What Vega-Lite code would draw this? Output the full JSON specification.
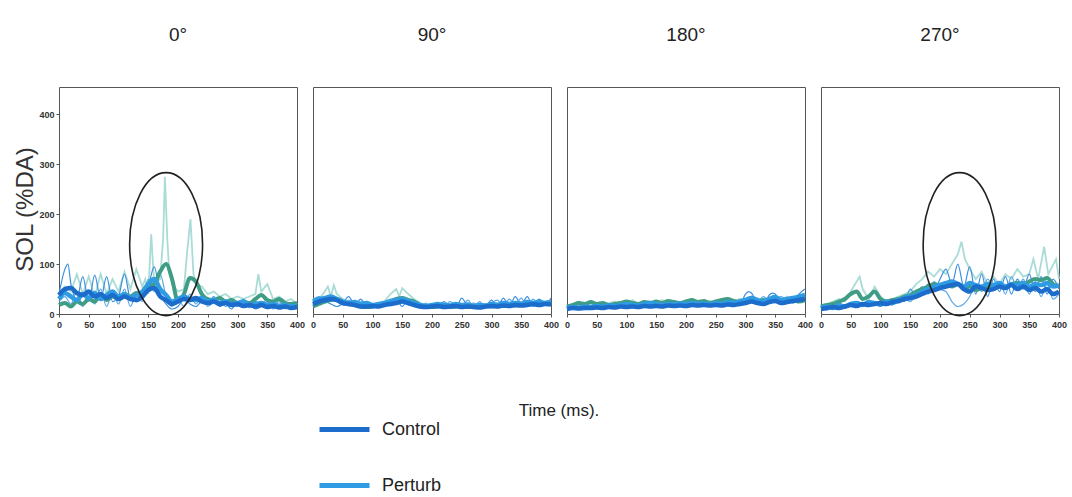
{
"$schema": "https://vega.github.io/schema/vega-lite/v6.json",
"background": "white",
"padding": {"left": 13, "top": 26, "right": 0, "bottom": 0},
"data": {"values": [
{"p":"0°","s":"A","t":0,"v":40},{"p":"0°","s":"A","t":10,"v":55},{"p":"0°","s":"A","t":20,"v":45},{"p":"0°","s":"A","t":30,"v":80},{"p":"0°","s":"A","t":40,"v":40},{"p":"0°","s":"A","t":50,"v":75},{"p":"0°","s":"A","t":60,"v":35},{"p":"0°","s":"A","t":70,"v":80},{"p":"0°","s":"A","t":80,"v":40},{"p":"0°","s":"A","t":90,"v":70},{"p":"0°","s":"A","t":100,"v":45},{"p":"0°","s":"A","t":110,"v":85},{"p":"0°","s":"A","t":120,"v":50},{"p":"0°","s":"A","t":130,"v":90},{"p":"0°","s":"A","t":140,"v":55},{"p":"0°","s":"A","t":145,"v":70},{"p":"0°","s":"A","t":150,"v":40},{"p":"0°","s":"A","t":155,"v":160},{"p":"0°","s":"A","t":160,"v":60},{"p":"0°","s":"A","t":170,"v":70},{"p":"0°","s":"A","t":175,"v":150},{"p":"0°","s":"A","t":178,"v":275},{"p":"0°","s":"A","t":182,"v":150},{"p":"0°","s":"A","t":185,"v":90},{"p":"0°","s":"A","t":190,"v":60},{"p":"0°","s":"A","t":200,"v":45},{"p":"0°","s":"A","t":210,"v":50},{"p":"0°","s":"A","t":215,"v":120},{"p":"0°","s":"A","t":221,"v":190},{"p":"0°","s":"A","t":226,"v":80},{"p":"0°","s":"A","t":230,"v":60},{"p":"0°","s":"A","t":240,"v":55},{"p":"0°","s":"A","t":250,"v":40},{"p":"0°","s":"A","t":260,"v":45},{"p":"0°","s":"A","t":270,"v":35},{"p":"0°","s":"A","t":280,"v":40},{"p":"0°","s":"A","t":290,"v":30},{"p":"0°","s":"A","t":300,"v":35},{"p":"0°","s":"A","t":310,"v":30},{"p":"0°","s":"A","t":320,"v":35},{"p":"0°","s":"A","t":330,"v":40},{"p":"0°","s":"A","t":335,"v":80},{"p":"0°","s":"A","t":340,"v":45},{"p":"0°","s":"A","t":350,"v":60},{"p":"0°","s":"A","t":360,"v":30},{"p":"0°","s":"A","t":370,"v":35},{"p":"0°","s":"A","t":380,"v":25},{"p":"0°","s":"A","t":390,"v":30},{"p":"0°","s":"A","t":400,"v":20},
{"p":"0°","s":"B","t":0,"v":40},{"p":"0°","s":"B","t":10,"v":90},{"p":"0°","s":"B","t":15,"v":100},{"p":"0°","s":"B","t":20,"v":60},{"p":"0°","s":"B","t":30,"v":30},{"p":"0°","s":"B","t":40,"v":75},{"p":"0°","s":"B","t":50,"v":25},{"p":"0°","s":"B","t":60,"v":78},{"p":"0°","s":"B","t":70,"v":30},{"p":"0°","s":"B","t":80,"v":75},{"p":"0°","s":"B","t":90,"v":25},{"p":"0°","s":"B","t":100,"v":35},{"p":"0°","s":"B","t":110,"v":80},{"p":"0°","s":"B","t":120,"v":30},{"p":"0°","s":"B","t":130,"v":25},{"p":"0°","s":"B","t":140,"v":40},{"p":"0°","s":"B","t":150,"v":55},{"p":"0°","s":"B","t":160,"v":95},{"p":"0°","s":"B","t":170,"v":40},{"p":"0°","s":"B","t":180,"v":20},{"p":"0°","s":"B","t":190,"v":10},{"p":"0°","s":"B","t":200,"v":15},{"p":"0°","s":"B","t":210,"v":30},{"p":"0°","s":"B","t":220,"v":20},{"p":"0°","s":"B","t":230,"v":15},{"p":"0°","s":"B","t":240,"v":25},{"p":"0°","s":"B","t":250,"v":20},{"p":"0°","s":"B","t":260,"v":35},{"p":"0°","s":"B","t":270,"v":15},{"p":"0°","s":"B","t":280,"v":20},{"p":"0°","s":"B","t":290,"v":10},{"p":"0°","s":"B","t":300,"v":25},{"p":"0°","s":"B","t":310,"v":15},{"p":"0°","s":"B","t":320,"v":20},{"p":"0°","s":"B","t":330,"v":10},{"p":"0°","s":"B","t":340,"v":15},{"p":"0°","s":"B","t":350,"v":25},{"p":"0°","s":"B","t":360,"v":10},{"p":"0°","s":"B","t":370,"v":20},{"p":"0°","s":"B","t":380,"v":15},{"p":"0°","s":"B","t":390,"v":10},{"p":"0°","s":"B","t":400,"v":15},
{"p":"0°","s":"D","t":0,"v":25},{"p":"0°","s":"D","t":10,"v":35},{"p":"0°","s":"D","t":20,"v":20},{"p":"0°","s":"D","t":30,"v":45},{"p":"0°","s":"D","t":40,"v":15},{"p":"0°","s":"D","t":50,"v":40},{"p":"0°","s":"D","t":60,"v":20},{"p":"0°","s":"D","t":70,"v":50},{"p":"0°","s":"D","t":80,"v":15},{"p":"0°","s":"D","t":90,"v":45},{"p":"0°","s":"D","t":100,"v":20},{"p":"0°","s":"D","t":110,"v":50},{"p":"0°","s":"D","t":120,"v":15},{"p":"0°","s":"D","t":130,"v":40},{"p":"0°","s":"D","t":140,"v":25},{"p":"0°","s":"D","t":150,"v":70},{"p":"0°","s":"D","t":160,"v":45},{"p":"0°","s":"D","t":170,"v":80},{"p":"0°","s":"D","t":180,"v":35},{"p":"0°","s":"D","t":190,"v":15},{"p":"0°","s":"D","t":200,"v":30},{"p":"0°","s":"D","t":210,"v":15},{"p":"0°","s":"D","t":220,"v":40},{"p":"0°","s":"D","t":230,"v":20},{"p":"0°","s":"D","t":240,"v":35},{"p":"0°","s":"D","t":250,"v":15},{"p":"0°","s":"D","t":260,"v":25},{"p":"0°","s":"D","t":270,"v":30},{"p":"0°","s":"D","t":280,"v":15},{"p":"0°","s":"D","t":290,"v":25},{"p":"0°","s":"D","t":300,"v":15},{"p":"0°","s":"D","t":310,"v":30},{"p":"0°","s":"D","t":320,"v":12},{"p":"0°","s":"D","t":330,"v":25},{"p":"0°","s":"D","t":340,"v":20},{"p":"0°","s":"D","t":350,"v":30},{"p":"0°","s":"D","t":360,"v":15},{"p":"0°","s":"D","t":370,"v":25},{"p":"0°","s":"D","t":380,"v":10},{"p":"0°","s":"D","t":390,"v":20},{"p":"0°","s":"D","t":400,"v":15},
{"p":"0°","s":"G","t":0,"v":18},{"p":"0°","s":"G","t":10,"v":22},{"p":"0°","s":"G","t":20,"v":15},{"p":"0°","s":"G","t":30,"v":25},{"p":"0°","s":"G","t":40,"v":20},{"p":"0°","s":"G","t":50,"v":30},{"p":"0°","s":"G","t":60,"v":25},{"p":"0°","s":"G","t":70,"v":38},{"p":"0°","s":"G","t":80,"v":28},{"p":"0°","s":"G","t":90,"v":35},{"p":"0°","s":"G","t":100,"v":30},{"p":"0°","s":"G","t":110,"v":40},{"p":"0°","s":"G","t":120,"v":35},{"p":"0°","s":"G","t":130,"v":42},{"p":"0°","s":"G","t":140,"v":38},{"p":"0°","s":"G","t":150,"v":55},{"p":"0°","s":"G","t":160,"v":60},{"p":"0°","s":"G","t":170,"v":85},{"p":"0°","s":"G","t":180,"v":100},{"p":"0°","s":"G","t":190,"v":70},{"p":"0°","s":"G","t":200,"v":25},{"p":"0°","s":"G","t":210,"v":40},{"p":"0°","s":"G","t":220,"v":72},{"p":"0°","s":"G","t":230,"v":65},{"p":"0°","s":"G","t":240,"v":40},{"p":"0°","s":"G","t":250,"v":30},{"p":"0°","s":"G","t":260,"v":28},{"p":"0°","s":"G","t":270,"v":32},{"p":"0°","s":"G","t":280,"v":25},{"p":"0°","s":"G","t":290,"v":28},{"p":"0°","s":"G","t":300,"v":22},{"p":"0°","s":"G","t":310,"v":25},{"p":"0°","s":"G","t":320,"v":22},{"p":"0°","s":"G","t":330,"v":30},{"p":"0°","s":"G","t":340,"v":38},{"p":"0°","s":"G","t":350,"v":28},{"p":"0°","s":"G","t":360,"v":25},{"p":"0°","s":"G","t":370,"v":30},{"p":"0°","s":"G","t":380,"v":22},{"p":"0°","s":"G","t":390,"v":20},{"p":"0°","s":"G","t":400,"v":22},
{"p":"0°","s":"P","t":0,"v":30},{"p":"0°","s":"P","t":10,"v":42},{"p":"0°","s":"P","t":20,"v":35},{"p":"0°","s":"P","t":30,"v":28},{"p":"0°","s":"P","t":40,"v":40},{"p":"0°","s":"P","t":50,"v":32},{"p":"0°","s":"P","t":60,"v":42},{"p":"0°","s":"P","t":70,"v":30},{"p":"0°","s":"P","t":80,"v":38},{"p":"0°","s":"P","t":90,"v":45},{"p":"0°","s":"P","t":100,"v":35},{"p":"0°","s":"P","t":110,"v":40},{"p":"0°","s":"P","t":120,"v":32},{"p":"0°","s":"P","t":130,"v":38},{"p":"0°","s":"P","t":140,"v":45},{"p":"0°","s":"P","t":150,"v":60},{"p":"0°","s":"P","t":160,"v":70},{"p":"0°","s":"P","t":170,"v":50},{"p":"0°","s":"P","t":180,"v":38},{"p":"0°","s":"P","t":190,"v":25},{"p":"0°","s":"P","t":200,"v":30},{"p":"0°","s":"P","t":210,"v":35},{"p":"0°","s":"P","t":220,"v":30},{"p":"0°","s":"P","t":230,"v":28},{"p":"0°","s":"P","t":240,"v":32},{"p":"0°","s":"P","t":250,"v":25},{"p":"0°","s":"P","t":260,"v":28},{"p":"0°","s":"P","t":270,"v":22},{"p":"0°","s":"P","t":280,"v":25},{"p":"0°","s":"P","t":290,"v":20},{"p":"0°","s":"P","t":300,"v":22},{"p":"0°","s":"P","t":310,"v":25},{"p":"0°","s":"P","t":320,"v":18},{"p":"0°","s":"P","t":330,"v":20},{"p":"0°","s":"P","t":340,"v":22},{"p":"0°","s":"P","t":350,"v":18},{"p":"0°","s":"P","t":360,"v":20},{"p":"0°","s":"P","t":370,"v":16},{"p":"0°","s":"P","t":380,"v":18},{"p":"0°","s":"P","t":390,"v":15},{"p":"0°","s":"P","t":400,"v":18},
{"p":"0°","s":"C","t":0,"v":38},{"p":"0°","s":"C","t":10,"v":50},{"p":"0°","s":"C","t":20,"v":52},{"p":"0°","s":"C","t":30,"v":42},{"p":"0°","s":"C","t":40,"v":38},{"p":"0°","s":"C","t":50,"v":45},{"p":"0°","s":"C","t":60,"v":35},{"p":"0°","s":"C","t":70,"v":40},{"p":"0°","s":"C","t":80,"v":32},{"p":"0°","s":"C","t":90,"v":38},{"p":"0°","s":"C","t":100,"v":30},{"p":"0°","s":"C","t":110,"v":35},{"p":"0°","s":"C","t":120,"v":30},{"p":"0°","s":"C","t":130,"v":28},{"p":"0°","s":"C","t":140,"v":35},{"p":"0°","s":"C","t":150,"v":48},{"p":"0°","s":"C","t":160,"v":52},{"p":"0°","s":"C","t":170,"v":35},{"p":"0°","s":"C","t":180,"v":28},{"p":"0°","s":"C","t":190,"v":20},{"p":"0°","s":"C","t":200,"v":25},{"p":"0°","s":"C","t":210,"v":30},{"p":"0°","s":"C","t":220,"v":28},{"p":"0°","s":"C","t":230,"v":32},{"p":"0°","s":"C","t":240,"v":25},{"p":"0°","s":"C","t":250,"v":22},{"p":"0°","s":"C","t":260,"v":25},{"p":"0°","s":"C","t":270,"v":20},{"p":"0°","s":"C","t":280,"v":22},{"p":"0°","s":"C","t":290,"v":18},{"p":"0°","s":"C","t":300,"v":20},{"p":"0°","s":"C","t":310,"v":16},{"p":"0°","s":"C","t":320,"v":18},{"p":"0°","s":"C","t":330,"v":15},{"p":"0°","s":"C","t":340,"v":18},{"p":"0°","s":"C","t":350,"v":14},{"p":"0°","s":"C","t":360,"v":16},{"p":"0°","s":"C","t":370,"v":13},{"p":"0°","s":"C","t":380,"v":15},{"p":"0°","s":"C","t":390,"v":12},{"p":"0°","s":"C","t":400,"v":14},
{"p":"90°","s":"A","t":0,"v":20},{"p":"90°","s":"A","t":10,"v":30},{"p":"90°","s":"A","t":20,"v":45},{"p":"90°","s":"A","t":25,"v":55},{"p":"90°","s":"A","t":30,"v":35},{"p":"90°","s":"A","t":35,"v":58},{"p":"90°","s":"A","t":40,"v":40},{"p":"90°","s":"A","t":50,"v":30},{"p":"90°","s":"A","t":60,"v":25},{"p":"90°","s":"A","t":70,"v":20},{"p":"90°","s":"A","t":80,"v":25},{"p":"90°","s":"A","t":90,"v":20},{"p":"90°","s":"A","t":100,"v":18},{"p":"90°","s":"A","t":110,"v":22},{"p":"90°","s":"A","t":120,"v":25},{"p":"90°","s":"A","t":130,"v":40},{"p":"90°","s":"A","t":140,"v":50},{"p":"90°","s":"A","t":145,"v":35},{"p":"90°","s":"A","t":150,"v":52},{"p":"90°","s":"A","t":160,"v":40},{"p":"90°","s":"A","t":170,"v":30},{"p":"90°","s":"A","t":180,"v":22},{"p":"90°","s":"A","t":190,"v":18},{"p":"90°","s":"A","t":200,"v":20},{"p":"90°","s":"A","t":210,"v":15},{"p":"90°","s":"A","t":220,"v":18},{"p":"90°","s":"A","t":230,"v":16},{"p":"90°","s":"A","t":240,"v":20},{"p":"90°","s":"A","t":250,"v":18},{"p":"90°","s":"A","t":260,"v":15},{"p":"90°","s":"A","t":270,"v":18},{"p":"90°","s":"A","t":280,"v":15},{"p":"90°","s":"A","t":290,"v":20},{"p":"90°","s":"A","t":300,"v":18},{"p":"90°","s":"A","t":310,"v":22},{"p":"90°","s":"A","t":320,"v":18},{"p":"90°","s":"A","t":330,"v":20},{"p":"90°","s":"A","t":340,"v":22},{"p":"90°","s":"A","t":350,"v":18},{"p":"90°","s":"A","t":360,"v":25},{"p":"90°","s":"A","t":370,"v":20},{"p":"90°","s":"A","t":380,"v":28},{"p":"90°","s":"A","t":390,"v":20},{"p":"90°","s":"A","t":400,"v":22},
{"p":"90°","s":"B","t":0,"v":15},{"p":"90°","s":"B","t":10,"v":20},{"p":"90°","s":"B","t":20,"v":25},{"p":"90°","s":"B","t":30,"v":20},{"p":"90°","s":"B","t":40,"v":15},{"p":"90°","s":"B","t":50,"v":22},{"p":"90°","s":"B","t":60,"v":35},{"p":"90°","s":"B","t":70,"v":18},{"p":"90°","s":"B","t":80,"v":30},{"p":"90°","s":"B","t":90,"v":15},{"p":"90°","s":"B","t":100,"v":12},{"p":"90°","s":"B","t":110,"v":18},{"p":"90°","s":"B","t":120,"v":15},{"p":"90°","s":"B","t":130,"v":20},{"p":"90°","s":"B","t":140,"v":28},{"p":"90°","s":"B","t":150,"v":15},{"p":"90°","s":"B","t":160,"v":30},{"p":"90°","s":"B","t":170,"v":20},{"p":"90°","s":"B","t":180,"v":12},{"p":"90°","s":"B","t":190,"v":15},{"p":"90°","s":"B","t":200,"v":20},{"p":"90°","s":"B","t":210,"v":12},{"p":"90°","s":"B","t":220,"v":25},{"p":"90°","s":"B","t":230,"v":15},{"p":"90°","s":"B","t":240,"v":12},{"p":"90°","s":"B","t":250,"v":32},{"p":"90°","s":"B","t":260,"v":18},{"p":"90°","s":"B","t":270,"v":22},{"p":"90°","s":"B","t":280,"v":12},{"p":"90°","s":"B","t":290,"v":15},{"p":"90°","s":"B","t":300,"v":28},{"p":"90°","s":"B","t":310,"v":15},{"p":"90°","s":"B","t":320,"v":32},{"p":"90°","s":"B","t":330,"v":15},{"p":"90°","s":"B","t":340,"v":35},{"p":"90°","s":"B","t":350,"v":18},{"p":"90°","s":"B","t":360,"v":35},{"p":"90°","s":"B","t":370,"v":15},{"p":"90°","s":"B","t":380,"v":30},{"p":"90°","s":"B","t":390,"v":18},{"p":"90°","s":"B","t":400,"v":32},
{"p":"90°","s":"D","t":0,"v":30},{"p":"90°","s":"D","t":10,"v":35},{"p":"90°","s":"D","t":20,"v":22},{"p":"90°","s":"D","t":30,"v":30},{"p":"90°","s":"D","t":40,"v":25},{"p":"90°","s":"D","t":50,"v":18},{"p":"90°","s":"D","t":60,"v":28},{"p":"90°","s":"D","t":70,"v":15},{"p":"90°","s":"D","t":80,"v":20},{"p":"90°","s":"D","t":90,"v":25},{"p":"90°","s":"D","t":100,"v":12},{"p":"90°","s":"D","t":110,"v":22},{"p":"90°","s":"D","t":120,"v":18},{"p":"90°","s":"D","t":130,"v":25},{"p":"90°","s":"D","t":140,"v":20},{"p":"90°","s":"D","t":150,"v":30},{"p":"90°","s":"D","t":160,"v":18},{"p":"90°","s":"D","t":170,"v":25},{"p":"90°","s":"D","t":180,"v":15},{"p":"90°","s":"D","t":190,"v":22},{"p":"90°","s":"D","t":200,"v":12},{"p":"90°","s":"D","t":210,"v":20},{"p":"90°","s":"D","t":220,"v":15},{"p":"90°","s":"D","t":230,"v":25},{"p":"90°","s":"D","t":240,"v":18},{"p":"90°","s":"D","t":250,"v":15},{"p":"90°","s":"D","t":260,"v":28},{"p":"90°","s":"D","t":270,"v":15},{"p":"90°","s":"D","t":280,"v":25},{"p":"90°","s":"D","t":290,"v":12},{"p":"90°","s":"D","t":300,"v":22},{"p":"90°","s":"D","t":310,"v":28},{"p":"90°","s":"D","t":320,"v":15},{"p":"90°","s":"D","t":330,"v":30},{"p":"90°","s":"D","t":340,"v":18},{"p":"90°","s":"D","t":350,"v":32},{"p":"90°","s":"D","t":360,"v":15},{"p":"90°","s":"D","t":370,"v":30},{"p":"90°","s":"D","t":380,"v":18},{"p":"90°","s":"D","t":390,"v":25},{"p":"90°","s":"D","t":400,"v":28},
{"p":"90°","s":"G","t":0,"v":15},{"p":"90°","s":"G","t":10,"v":20},{"p":"90°","s":"G","t":20,"v":25},{"p":"90°","s":"G","t":30,"v":28},{"p":"90°","s":"G","t":40,"v":30},{"p":"90°","s":"G","t":50,"v":25},{"p":"90°","s":"G","t":60,"v":20},{"p":"90°","s":"G","t":70,"v":18},{"p":"90°","s":"G","t":80,"v":15},{"p":"90°","s":"G","t":90,"v":14},{"p":"90°","s":"G","t":100,"v":15},{"p":"90°","s":"G","t":110,"v":18},{"p":"90°","s":"G","t":120,"v":20},{"p":"90°","s":"G","t":130,"v":25},{"p":"90°","s":"G","t":140,"v":30},{"p":"90°","s":"G","t":150,"v":32},{"p":"90°","s":"G","t":160,"v":28},{"p":"90°","s":"G","t":170,"v":25},{"p":"90°","s":"G","t":180,"v":18},{"p":"90°","s":"G","t":190,"v":15},{"p":"90°","s":"G","t":200,"v":14},{"p":"90°","s":"G","t":210,"v":15},{"p":"90°","s":"G","t":220,"v":16},{"p":"90°","s":"G","t":230,"v":14},{"p":"90°","s":"G","t":240,"v":15},{"p":"90°","s":"G","t":250,"v":16},{"p":"90°","s":"G","t":260,"v":14},{"p":"90°","s":"G","t":270,"v":15},{"p":"90°","s":"G","t":280,"v":14},{"p":"90°","s":"G","t":290,"v":16},{"p":"90°","s":"G","t":300,"v":15},{"p":"90°","s":"G","t":310,"v":17},{"p":"90°","s":"G","t":320,"v":16},{"p":"90°","s":"G","t":330,"v":18},{"p":"90°","s":"G","t":340,"v":17},{"p":"90°","s":"G","t":350,"v":18},{"p":"90°","s":"G","t":360,"v":19},{"p":"90°","s":"G","t":370,"v":20},{"p":"90°","s":"G","t":380,"v":18},{"p":"90°","s":"G","t":390,"v":21},{"p":"90°","s":"G","t":400,"v":20},
{"p":"90°","s":"P","t":0,"v":25},{"p":"90°","s":"P","t":10,"v":30},{"p":"90°","s":"P","t":20,"v":32},{"p":"90°","s":"P","t":30,"v":35},{"p":"90°","s":"P","t":40,"v":30},{"p":"90°","s":"P","t":50,"v":25},{"p":"90°","s":"P","t":60,"v":22},{"p":"90°","s":"P","t":70,"v":24},{"p":"90°","s":"P","t":80,"v":20},{"p":"90°","s":"P","t":90,"v":22},{"p":"90°","s":"P","t":100,"v":18},{"p":"90°","s":"P","t":110,"v":20},{"p":"90°","s":"P","t":120,"v":22},{"p":"90°","s":"P","t":130,"v":26},{"p":"90°","s":"P","t":140,"v":28},{"p":"90°","s":"P","t":150,"v":30},{"p":"90°","s":"P","t":160,"v":26},{"p":"90°","s":"P","t":170,"v":22},{"p":"90°","s":"P","t":180,"v":18},{"p":"90°","s":"P","t":190,"v":16},{"p":"90°","s":"P","t":200,"v":18},{"p":"90°","s":"P","t":210,"v":20},{"p":"90°","s":"P","t":220,"v":18},{"p":"90°","s":"P","t":230,"v":17},{"p":"90°","s":"P","t":240,"v":20},{"p":"90°","s":"P","t":250,"v":18},{"p":"90°","s":"P","t":260,"v":19},{"p":"90°","s":"P","t":270,"v":16},{"p":"90°","s":"P","t":280,"v":18},{"p":"90°","s":"P","t":290,"v":17},{"p":"90°","s":"P","t":300,"v":20},{"p":"90°","s":"P","t":310,"v":18},{"p":"90°","s":"P","t":320,"v":22},{"p":"90°","s":"P","t":330,"v":20},{"p":"90°","s":"P","t":340,"v":22},{"p":"90°","s":"P","t":350,"v":21},{"p":"90°","s":"P","t":360,"v":24},{"p":"90°","s":"P","t":370,"v":22},{"p":"90°","s":"P","t":380,"v":25},{"p":"90°","s":"P","t":390,"v":22},{"p":"90°","s":"P","t":400,"v":24},
{"p":"90°","s":"C","t":0,"v":20},{"p":"90°","s":"C","t":10,"v":25},{"p":"90°","s":"C","t":20,"v":28},{"p":"90°","s":"C","t":30,"v":30},{"p":"90°","s":"C","t":40,"v":28},{"p":"90°","s":"C","t":50,"v":22},{"p":"90°","s":"C","t":60,"v":20},{"p":"90°","s":"C","t":70,"v":18},{"p":"90°","s":"C","t":80,"v":15},{"p":"90°","s":"C","t":90,"v":15},{"p":"90°","s":"C","t":100,"v":16},{"p":"90°","s":"C","t":110,"v":15},{"p":"90°","s":"C","t":120,"v":18},{"p":"90°","s":"C","t":130,"v":20},{"p":"90°","s":"C","t":140,"v":22},{"p":"90°","s":"C","t":150,"v":25},{"p":"90°","s":"C","t":160,"v":22},{"p":"90°","s":"C","t":170,"v":18},{"p":"90°","s":"C","t":180,"v":15},{"p":"90°","s":"C","t":190,"v":14},{"p":"90°","s":"C","t":200,"v":15},{"p":"90°","s":"C","t":210,"v":16},{"p":"90°","s":"C","t":220,"v":14},{"p":"90°","s":"C","t":230,"v":15},{"p":"90°","s":"C","t":240,"v":16},{"p":"90°","s":"C","t":250,"v":14},{"p":"90°","s":"C","t":260,"v":15},{"p":"90°","s":"C","t":270,"v":14},{"p":"90°","s":"C","t":280,"v":13},{"p":"90°","s":"C","t":290,"v":15},{"p":"90°","s":"C","t":300,"v":16},{"p":"90°","s":"C","t":310,"v":15},{"p":"90°","s":"C","t":320,"v":17},{"p":"90°","s":"C","t":330,"v":16},{"p":"90°","s":"C","t":340,"v":18},{"p":"90°","s":"C","t":350,"v":17},{"p":"90°","s":"C","t":360,"v":18},{"p":"90°","s":"C","t":370,"v":20},{"p":"90°","s":"C","t":380,"v":18},{"p":"90°","s":"C","t":390,"v":20},{"p":"90°","s":"C","t":400,"v":19},
{"p":"180°","s":"A","t":0,"v":15},{"p":"180°","s":"A","t":10,"v":20},{"p":"180°","s":"A","t":20,"v":25},{"p":"180°","s":"A","t":30,"v":18},{"p":"180°","s":"A","t":40,"v":22},{"p":"180°","s":"A","t":50,"v":18},{"p":"180°","s":"A","t":60,"v":20},{"p":"180°","s":"A","t":70,"v":22},{"p":"180°","s":"A","t":80,"v":25},{"p":"180°","s":"A","t":90,"v":20},{"p":"180°","s":"A","t":100,"v":22},{"p":"180°","s":"A","t":110,"v":28},{"p":"180°","s":"A","t":120,"v":20},{"p":"180°","s":"A","t":130,"v":22},{"p":"180°","s":"A","t":140,"v":25},{"p":"180°","s":"A","t":150,"v":22},{"p":"180°","s":"A","t":160,"v":28},{"p":"180°","s":"A","t":170,"v":20},{"p":"180°","s":"A","t":180,"v":24},{"p":"180°","s":"A","t":190,"v":22},{"p":"180°","s":"A","t":200,"v":26},{"p":"180°","s":"A","t":210,"v":20},{"p":"180°","s":"A","t":220,"v":24},{"p":"180°","s":"A","t":230,"v":22},{"p":"180°","s":"A","t":240,"v":26},{"p":"180°","s":"A","t":250,"v":20},{"p":"180°","s":"A","t":260,"v":28},{"p":"180°","s":"A","t":270,"v":32},{"p":"180°","s":"A","t":280,"v":25},{"p":"180°","s":"A","t":290,"v":30},{"p":"180°","s":"A","t":300,"v":28},{"p":"180°","s":"A","t":310,"v":35},{"p":"180°","s":"A","t":320,"v":30},{"p":"180°","s":"A","t":330,"v":28},{"p":"180°","s":"A","t":340,"v":32},{"p":"180°","s":"A","t":350,"v":30},{"p":"180°","s":"A","t":360,"v":28},{"p":"180°","s":"A","t":370,"v":35},{"p":"180°","s":"A","t":380,"v":30},{"p":"180°","s":"A","t":390,"v":38},{"p":"180°","s":"A","t":400,"v":35},
{"p":"180°","s":"B","t":0,"v":8},{"p":"180°","s":"B","t":10,"v":10},{"p":"180°","s":"B","t":20,"v":9},{"p":"180°","s":"B","t":30,"v":12},{"p":"180°","s":"B","t":40,"v":10},{"p":"180°","s":"B","t":50,"v":12},{"p":"180°","s":"B","t":60,"v":15},{"p":"180°","s":"B","t":70,"v":12},{"p":"180°","s":"B","t":80,"v":18},{"p":"180°","s":"B","t":90,"v":14},{"p":"180°","s":"B","t":100,"v":20},{"p":"180°","s":"B","t":110,"v":16},{"p":"180°","s":"B","t":120,"v":22},{"p":"180°","s":"B","t":130,"v":15},{"p":"180°","s":"B","t":140,"v":18},{"p":"180°","s":"B","t":150,"v":25},{"p":"180°","s":"B","t":160,"v":16},{"p":"180°","s":"B","t":170,"v":18},{"p":"180°","s":"B","t":180,"v":20},{"p":"180°","s":"B","t":190,"v":15},{"p":"180°","s":"B","t":200,"v":18},{"p":"180°","s":"B","t":210,"v":16},{"p":"180°","s":"B","t":220,"v":20},{"p":"180°","s":"B","t":230,"v":15},{"p":"180°","s":"B","t":240,"v":18},{"p":"180°","s":"B","t":250,"v":16},{"p":"180°","s":"B","t":260,"v":22},{"p":"180°","s":"B","t":270,"v":18},{"p":"180°","s":"B","t":280,"v":20},{"p":"180°","s":"B","t":290,"v":18},{"p":"180°","s":"B","t":300,"v":40},{"p":"180°","s":"B","t":305,"v":45},{"p":"180°","s":"B","t":310,"v":42},{"p":"180°","s":"B","t":320,"v":22},{"p":"180°","s":"B","t":330,"v":18},{"p":"180°","s":"B","t":340,"v":38},{"p":"180°","s":"B","t":345,"v":42},{"p":"180°","s":"B","t":350,"v":40},{"p":"180°","s":"B","t":360,"v":20},{"p":"180°","s":"B","t":370,"v":25},{"p":"180°","s":"B","t":380,"v":22},{"p":"180°","s":"B","t":390,"v":40},{"p":"180°","s":"B","t":400,"v":50},
{"p":"180°","s":"D","t":0,"v":12},{"p":"180°","s":"D","t":10,"v":15},{"p":"180°","s":"D","t":20,"v":10},{"p":"180°","s":"D","t":30,"v":14},{"p":"180°","s":"D","t":40,"v":16},{"p":"180°","s":"D","t":50,"v":12},{"p":"180°","s":"D","t":60,"v":18},{"p":"180°","s":"D","t":70,"v":14},{"p":"180°","s":"D","t":80,"v":15},{"p":"180°","s":"D","t":90,"v":20},{"p":"180°","s":"D","t":100,"v":15},{"p":"180°","s":"D","t":110,"v":18},{"p":"180°","s":"D","t":120,"v":16},{"p":"180°","s":"D","t":130,"v":22},{"p":"180°","s":"D","t":140,"v":14},{"p":"180°","s":"D","t":150,"v":18},{"p":"180°","s":"D","t":160,"v":20},{"p":"180°","s":"D","t":170,"v":15},{"p":"180°","s":"D","t":180,"v":18},{"p":"180°","s":"D","t":190,"v":20},{"p":"180°","s":"D","t":200,"v":16},{"p":"180°","s":"D","t":210,"v":22},{"p":"180°","s":"D","t":220,"v":18},{"p":"180°","s":"D","t":230,"v":20},{"p":"180°","s":"D","t":240,"v":15},{"p":"180°","s":"D","t":250,"v":22},{"p":"180°","s":"D","t":260,"v":18},{"p":"180°","s":"D","t":270,"v":20},{"p":"180°","s":"D","t":280,"v":25},{"p":"180°","s":"D","t":290,"v":22},{"p":"180°","s":"D","t":300,"v":25},{"p":"180°","s":"D","t":310,"v":30},{"p":"180°","s":"D","t":320,"v":25},{"p":"180°","s":"D","t":330,"v":35},{"p":"180°","s":"D","t":340,"v":28},{"p":"180°","s":"D","t":350,"v":30},{"p":"180°","s":"D","t":360,"v":35},{"p":"180°","s":"D","t":370,"v":28},{"p":"180°","s":"D","t":380,"v":35},{"p":"180°","s":"D","t":390,"v":30},{"p":"180°","s":"D","t":400,"v":40},
{"p":"180°","s":"G","t":0,"v":15},{"p":"180°","s":"G","t":10,"v":18},{"p":"180°","s":"G","t":20,"v":22},{"p":"180°","s":"G","t":30,"v":20},{"p":"180°","s":"G","t":40,"v":24},{"p":"180°","s":"G","t":50,"v":20},{"p":"180°","s":"G","t":60,"v":22},{"p":"180°","s":"G","t":70,"v":18},{"p":"180°","s":"G","t":80,"v":20},{"p":"180°","s":"G","t":90,"v":22},{"p":"180°","s":"G","t":100,"v":25},{"p":"180°","s":"G","t":110,"v":22},{"p":"180°","s":"G","t":120,"v":20},{"p":"180°","s":"G","t":130,"v":24},{"p":"180°","s":"G","t":140,"v":22},{"p":"180°","s":"G","t":150,"v":25},{"p":"180°","s":"G","t":160,"v":22},{"p":"180°","s":"G","t":170,"v":26},{"p":"180°","s":"G","t":180,"v":24},{"p":"180°","s":"G","t":190,"v":22},{"p":"180°","s":"G","t":200,"v":25},{"p":"180°","s":"G","t":210,"v":28},{"p":"180°","s":"G","t":220,"v":24},{"p":"180°","s":"G","t":230,"v":26},{"p":"180°","s":"G","t":240,"v":22},{"p":"180°","s":"G","t":250,"v":25},{"p":"180°","s":"G","t":260,"v":28},{"p":"180°","s":"G","t":270,"v":30},{"p":"180°","s":"G","t":280,"v":26},{"p":"180°","s":"G","t":290,"v":24},{"p":"180°","s":"G","t":300,"v":26},{"p":"180°","s":"G","t":310,"v":28},{"p":"180°","s":"G","t":320,"v":25},{"p":"180°","s":"G","t":330,"v":28},{"p":"180°","s":"G","t":340,"v":26},{"p":"180°","s":"G","t":350,"v":28},{"p":"180°","s":"G","t":360,"v":24},{"p":"180°","s":"G","t":370,"v":26},{"p":"180°","s":"G","t":380,"v":28},{"p":"180°","s":"G","t":390,"v":25},{"p":"180°","s":"G","t":400,"v":28},
{"p":"180°","s":"P","t":0,"v":12},{"p":"180°","s":"P","t":10,"v":14},{"p":"180°","s":"P","t":20,"v":13},{"p":"180°","s":"P","t":30,"v":15},{"p":"180°","s":"P","t":40,"v":14},{"p":"180°","s":"P","t":50,"v":16},{"p":"180°","s":"P","t":60,"v":15},{"p":"180°","s":"P","t":70,"v":17},{"p":"180°","s":"P","t":80,"v":16},{"p":"180°","s":"P","t":90,"v":18},{"p":"180°","s":"P","t":100,"v":20},{"p":"180°","s":"P","t":110,"v":18},{"p":"180°","s":"P","t":120,"v":17},{"p":"180°","s":"P","t":130,"v":20},{"p":"180°","s":"P","t":140,"v":22},{"p":"180°","s":"P","t":150,"v":20},{"p":"180°","s":"P","t":160,"v":18},{"p":"180°","s":"P","t":170,"v":20},{"p":"180°","s":"P","t":180,"v":19},{"p":"180°","s":"P","t":190,"v":21},{"p":"180°","s":"P","t":200,"v":20},{"p":"180°","s":"P","t":210,"v":22},{"p":"180°","s":"P","t":220,"v":20},{"p":"180°","s":"P","t":230,"v":21},{"p":"180°","s":"P","t":240,"v":19},{"p":"180°","s":"P","t":250,"v":22},{"p":"180°","s":"P","t":260,"v":20},{"p":"180°","s":"P","t":270,"v":24},{"p":"180°","s":"P","t":280,"v":22},{"p":"180°","s":"P","t":290,"v":25},{"p":"180°","s":"P","t":300,"v":28},{"p":"180°","s":"P","t":310,"v":32},{"p":"180°","s":"P","t":320,"v":28},{"p":"180°","s":"P","t":330,"v":25},{"p":"180°","s":"P","t":340,"v":30},{"p":"180°","s":"P","t":350,"v":34},{"p":"180°","s":"P","t":360,"v":28},{"p":"180°","s":"P","t":370,"v":30},{"p":"180°","s":"P","t":380,"v":32},{"p":"180°","s":"P","t":390,"v":35},{"p":"180°","s":"P","t":400,"v":38},
{"p":"180°","s":"C","t":0,"v":10},{"p":"180°","s":"C","t":10,"v":12},{"p":"180°","s":"C","t":20,"v":11},{"p":"180°","s":"C","t":30,"v":12},{"p":"180°","s":"C","t":40,"v":12},{"p":"180°","s":"C","t":50,"v":13},{"p":"180°","s":"C","t":60,"v":12},{"p":"180°","s":"C","t":70,"v":14},{"p":"180°","s":"C","t":80,"v":13},{"p":"180°","s":"C","t":90,"v":15},{"p":"180°","s":"C","t":100,"v":14},{"p":"180°","s":"C","t":110,"v":15},{"p":"180°","s":"C","t":120,"v":14},{"p":"180°","s":"C","t":130,"v":16},{"p":"180°","s":"C","t":140,"v":15},{"p":"180°","s":"C","t":150,"v":16},{"p":"180°","s":"C","t":160,"v":15},{"p":"180°","s":"C","t":170,"v":17},{"p":"180°","s":"C","t":180,"v":16},{"p":"180°","s":"C","t":190,"v":17},{"p":"180°","s":"C","t":200,"v":16},{"p":"180°","s":"C","t":210,"v":18},{"p":"180°","s":"C","t":220,"v":17},{"p":"180°","s":"C","t":230,"v":18},{"p":"180°","s":"C","t":240,"v":17},{"p":"180°","s":"C","t":250,"v":18},{"p":"180°","s":"C","t":260,"v":17},{"p":"180°","s":"C","t":270,"v":19},{"p":"180°","s":"C","t":280,"v":18},{"p":"180°","s":"C","t":290,"v":20},{"p":"180°","s":"C","t":300,"v":22},{"p":"180°","s":"C","t":310,"v":25},{"p":"180°","s":"C","t":320,"v":22},{"p":"180°","s":"C","t":330,"v":20},{"p":"180°","s":"C","t":340,"v":24},{"p":"180°","s":"C","t":350,"v":26},{"p":"180°","s":"C","t":360,"v":22},{"p":"180°","s":"C","t":370,"v":24},{"p":"180°","s":"C","t":380,"v":26},{"p":"180°","s":"C","t":390,"v":28},{"p":"180°","s":"C","t":400,"v":30},
{"p":"270°","s":"A","t":0,"v":15},{"p":"270°","s":"A","t":10,"v":20},{"p":"270°","s":"A","t":20,"v":25},{"p":"270°","s":"A","t":30,"v":30},{"p":"270°","s":"A","t":40,"v":25},{"p":"270°","s":"A","t":50,"v":45},{"p":"270°","s":"A","t":60,"v":65},{"p":"270°","s":"A","t":65,"v":75},{"p":"270°","s":"A","t":70,"v":50},{"p":"270°","s":"A","t":80,"v":30},{"p":"270°","s":"A","t":90,"v":55},{"p":"270°","s":"A","t":100,"v":35},{"p":"270°","s":"A","t":110,"v":25},{"p":"270°","s":"A","t":120,"v":30},{"p":"270°","s":"A","t":130,"v":35},{"p":"270°","s":"A","t":140,"v":40},{"p":"270°","s":"A","t":150,"v":45},{"p":"270°","s":"A","t":160,"v":60},{"p":"270°","s":"A","t":170,"v":70},{"p":"270°","s":"A","t":180,"v":85},{"p":"270°","s":"A","t":190,"v":75},{"p":"270°","s":"A","t":200,"v":90},{"p":"270°","s":"A","t":210,"v":80},{"p":"270°","s":"A","t":220,"v":100},{"p":"270°","s":"A","t":230,"v":120},{"p":"270°","s":"A","t":236,"v":145},{"p":"270°","s":"A","t":242,"v":110},{"p":"270°","s":"A","t":250,"v":90},{"p":"270°","s":"A","t":260,"v":70},{"p":"270°","s":"A","t":270,"v":85},{"p":"270°","s":"A","t":280,"v":60},{"p":"270°","s":"A","t":290,"v":75},{"p":"270°","s":"A","t":300,"v":60},{"p":"270°","s":"A","t":310,"v":80},{"p":"270°","s":"A","t":320,"v":70},{"p":"270°","s":"A","t":330,"v":90},{"p":"270°","s":"A","t":340,"v":75},{"p":"270°","s":"A","t":350,"v":80},{"p":"270°","s":"A","t":357,"v":110},{"p":"270°","s":"A","t":365,"v":70},{"p":"270°","s":"A","t":375,"v":135},{"p":"270°","s":"A","t":382,"v":80},{"p":"270°","s":"A","t":395,"v":110},{"p":"270°","s":"A","t":400,"v":70},
{"p":"270°","s":"B","t":0,"v":10},{"p":"270°","s":"B","t":10,"v":8},{"p":"270°","s":"B","t":20,"v":15},{"p":"270°","s":"B","t":30,"v":12},{"p":"270°","s":"B","t":40,"v":18},{"p":"270°","s":"B","t":50,"v":15},{"p":"270°","s":"B","t":60,"v":20},{"p":"270°","s":"B","t":70,"v":18},{"p":"270°","s":"B","t":80,"v":25},{"p":"270°","s":"B","t":90,"v":20},{"p":"270°","s":"B","t":100,"v":15},{"p":"270°","s":"B","t":110,"v":22},{"p":"270°","s":"B","t":120,"v":18},{"p":"270°","s":"B","t":130,"v":30},{"p":"270°","s":"B","t":140,"v":25},{"p":"270°","s":"B","t":150,"v":50},{"p":"270°","s":"B","t":160,"v":35},{"p":"270°","s":"B","t":170,"v":40},{"p":"270°","s":"B","t":180,"v":60},{"p":"270°","s":"B","t":190,"v":45},{"p":"270°","s":"B","t":200,"v":70},{"p":"270°","s":"B","t":210,"v":90},{"p":"270°","s":"B","t":220,"v":60},{"p":"270°","s":"B","t":230,"v":100},{"p":"270°","s":"B","t":240,"v":55},{"p":"270°","s":"B","t":250,"v":95},{"p":"270°","s":"B","t":260,"v":40},{"p":"270°","s":"B","t":270,"v":80},{"p":"270°","s":"B","t":280,"v":35},{"p":"270°","s":"B","t":290,"v":70},{"p":"270°","s":"B","t":300,"v":45},{"p":"270°","s":"B","t":310,"v":75},{"p":"270°","s":"B","t":320,"v":40},{"p":"270°","s":"B","t":330,"v":70},{"p":"270°","s":"B","t":340,"v":50},{"p":"270°","s":"B","t":350,"v":80},{"p":"270°","s":"B","t":360,"v":45},{"p":"270°","s":"B","t":370,"v":75},{"p":"270°","s":"B","t":380,"v":40},{"p":"270°","s":"B","t":390,"v":70},{"p":"270°","s":"B","t":400,"v":50},
{"p":"270°","s":"D","t":0,"v":12},{"p":"270°","s":"D","t":10,"v":15},{"p":"270°","s":"D","t":20,"v":10},{"p":"270°","s":"D","t":30,"v":18},{"p":"270°","s":"D","t":40,"v":12},{"p":"270°","s":"D","t":50,"v":20},{"p":"270°","s":"D","t":60,"v":25},{"p":"270°","s":"D","t":70,"v":15},{"p":"270°","s":"D","t":80,"v":22},{"p":"270°","s":"D","t":90,"v":18},{"p":"270°","s":"D","t":100,"v":25},{"p":"270°","s":"D","t":110,"v":20},{"p":"270°","s":"D","t":120,"v":28},{"p":"270°","s":"D","t":130,"v":22},{"p":"270°","s":"D","t":140,"v":30},{"p":"270°","s":"D","t":150,"v":25},{"p":"270°","s":"D","t":160,"v":40},{"p":"270°","s":"D","t":170,"v":55},{"p":"270°","s":"D","t":180,"v":40},{"p":"270°","s":"D","t":190,"v":65},{"p":"270°","s":"D","t":200,"v":50},{"p":"270°","s":"D","t":210,"v":45},{"p":"270°","s":"D","t":220,"v":25},{"p":"270°","s":"D","t":230,"v":15},{"p":"270°","s":"D","t":240,"v":20},{"p":"270°","s":"D","t":250,"v":35},{"p":"270°","s":"D","t":260,"v":60},{"p":"270°","s":"D","t":270,"v":45},{"p":"270°","s":"D","t":280,"v":70},{"p":"270°","s":"D","t":290,"v":55},{"p":"270°","s":"D","t":300,"v":65},{"p":"270°","s":"D","t":310,"v":40},{"p":"270°","s":"D","t":320,"v":75},{"p":"270°","s":"D","t":330,"v":50},{"p":"270°","s":"D","t":340,"v":70},{"p":"270°","s":"D","t":350,"v":40},{"p":"270°","s":"D","t":360,"v":65},{"p":"270°","s":"D","t":370,"v":35},{"p":"270°","s":"D","t":380,"v":60},{"p":"270°","s":"D","t":390,"v":30},{"p":"270°","s":"D","t":400,"v":40},
{"p":"270°","s":"G","t":0,"v":15},{"p":"270°","s":"G","t":10,"v":18},{"p":"270°","s":"G","t":20,"v":20},{"p":"270°","s":"G","t":30,"v":25},{"p":"270°","s":"G","t":40,"v":30},{"p":"270°","s":"G","t":50,"v":40},{"p":"270°","s":"G","t":60,"v":45},{"p":"270°","s":"G","t":70,"v":30},{"p":"270°","s":"G","t":80,"v":35},{"p":"270°","s":"G","t":90,"v":45},{"p":"270°","s":"G","t":100,"v":30},{"p":"270°","s":"G","t":110,"v":25},{"p":"270°","s":"G","t":120,"v":28},{"p":"270°","s":"G","t":130,"v":30},{"p":"270°","s":"G","t":140,"v":35},{"p":"270°","s":"G","t":150,"v":38},{"p":"270°","s":"G","t":160,"v":45},{"p":"270°","s":"G","t":170,"v":50},{"p":"270°","s":"G","t":180,"v":55},{"p":"270°","s":"G","t":190,"v":60},{"p":"270°","s":"G","t":200,"v":58},{"p":"270°","s":"G","t":210,"v":62},{"p":"270°","s":"G","t":220,"v":55},{"p":"270°","s":"G","t":230,"v":60},{"p":"270°","s":"G","t":240,"v":50},{"p":"270°","s":"G","t":250,"v":55},{"p":"270°","s":"G","t":260,"v":48},{"p":"270°","s":"G","t":270,"v":52},{"p":"270°","s":"G","t":280,"v":55},{"p":"270°","s":"G","t":290,"v":50},{"p":"270°","s":"G","t":300,"v":58},{"p":"270°","s":"G","t":310,"v":55},{"p":"270°","s":"G","t":320,"v":60},{"p":"270°","s":"G","t":330,"v":62},{"p":"270°","s":"G","t":340,"v":58},{"p":"270°","s":"G","t":350,"v":65},{"p":"270°","s":"G","t":360,"v":70},{"p":"270°","s":"G","t":370,"v":68},{"p":"270°","s":"G","t":380,"v":72},{"p":"270°","s":"G","t":390,"v":60},{"p":"270°","s":"G","t":400,"v":55},
{"p":"270°","s":"P","t":0,"v":12},{"p":"270°","s":"P","t":10,"v":15},{"p":"270°","s":"P","t":20,"v":12},{"p":"270°","s":"P","t":30,"v":18},{"p":"270°","s":"P","t":40,"v":15},{"p":"270°","s":"P","t":50,"v":20},{"p":"270°","s":"P","t":60,"v":22},{"p":"270°","s":"P","t":70,"v":18},{"p":"270°","s":"P","t":80,"v":24},{"p":"270°","s":"P","t":90,"v":22},{"p":"270°","s":"P","t":100,"v":20},{"p":"270°","s":"P","t":110,"v":25},{"p":"270°","s":"P","t":120,"v":22},{"p":"270°","s":"P","t":130,"v":28},{"p":"270°","s":"P","t":140,"v":32},{"p":"270°","s":"P","t":150,"v":35},{"p":"270°","s":"P","t":160,"v":38},{"p":"270°","s":"P","t":170,"v":45},{"p":"270°","s":"P","t":180,"v":50},{"p":"270°","s":"P","t":190,"v":55},{"p":"270°","s":"P","t":200,"v":58},{"p":"270°","s":"P","t":210,"v":62},{"p":"270°","s":"P","t":220,"v":65},{"p":"270°","s":"P","t":230,"v":60},{"p":"270°","s":"P","t":240,"v":55},{"p":"270°","s":"P","t":250,"v":62},{"p":"270°","s":"P","t":260,"v":58},{"p":"270°","s":"P","t":270,"v":55},{"p":"270°","s":"P","t":280,"v":60},{"p":"270°","s":"P","t":290,"v":58},{"p":"270°","s":"P","t":300,"v":62},{"p":"270°","s":"P","t":310,"v":55},{"p":"270°","s":"P","t":320,"v":60},{"p":"270°","s":"P","t":330,"v":58},{"p":"270°","s":"P","t":340,"v":62},{"p":"270°","s":"P","t":350,"v":55},{"p":"270°","s":"P","t":360,"v":60},{"p":"270°","s":"P","t":370,"v":58},{"p":"270°","s":"P","t":380,"v":62},{"p":"270°","s":"P","t":390,"v":55},{"p":"270°","s":"P","t":400,"v":58},
{"p":"270°","s":"C","t":0,"v":10},{"p":"270°","s":"C","t":10,"v":12},{"p":"270°","s":"C","t":20,"v":14},{"p":"270°","s":"C","t":30,"v":12},{"p":"270°","s":"C","t":40,"v":15},{"p":"270°","s":"C","t":50,"v":18},{"p":"270°","s":"C","t":60,"v":16},{"p":"270°","s":"C","t":70,"v":20},{"p":"270°","s":"C","t":80,"v":18},{"p":"270°","s":"C","t":90,"v":20},{"p":"270°","s":"C","t":100,"v":22},{"p":"270°","s":"C","t":110,"v":20},{"p":"270°","s":"C","t":120,"v":24},{"p":"270°","s":"C","t":130,"v":26},{"p":"270°","s":"C","t":140,"v":30},{"p":"270°","s":"C","t":150,"v":32},{"p":"270°","s":"C","t":160,"v":35},{"p":"270°","s":"C","t":170,"v":40},{"p":"270°","s":"C","t":180,"v":45},{"p":"270°","s":"C","t":190,"v":48},{"p":"270°","s":"C","t":200,"v":52},{"p":"270°","s":"C","t":210,"v":55},{"p":"270°","s":"C","t":220,"v":58},{"p":"270°","s":"C","t":230,"v":60},{"p":"270°","s":"C","t":240,"v":50},{"p":"270°","s":"C","t":250,"v":45},{"p":"270°","s":"C","t":260,"v":55},{"p":"270°","s":"C","t":270,"v":52},{"p":"270°","s":"C","t":280,"v":48},{"p":"270°","s":"C","t":290,"v":50},{"p":"270°","s":"C","t":300,"v":55},{"p":"270°","s":"C","t":310,"v":52},{"p":"270°","s":"C","t":320,"v":58},{"p":"270°","s":"C","t":330,"v":50},{"p":"270°","s":"C","t":340,"v":55},{"p":"270°","s":"C","t":350,"v":48},{"p":"270°","s":"C","t":360,"v":52},{"p":"270°","s":"C","t":370,"v":45},{"p":"270°","s":"C","t":380,"v":50},{"p":"270°","s":"C","t":390,"v":40},{"p":"270°","s":"C","t":400,"v":45},
{"p":"0°","s":"O","t":180,"v":140},
{"p":"270°","s":"O","t":233,"v":140}
]},
"facet": {"column": {"field": "p", "type": "nominal", "sort": ["0°", "90°", "180°", "270°"], "title": "Time (ms).",
  "header": {"labelOrient": "top", "titleOrient": "bottom", "labelFontSize": 19, "labelFont": "Liberation Sans", "labelColor": "#222", "labelPadding": 42,
    "titleFontSize": 17, "titleFont": "Liberation Sans", "titleFontWeight": "normal", "titleColor": "#222", "titlePadding": 64}}},
"spacing": 16,
"bounds": "flush",
"spec": {
  "width": 238,
  "height": 227,
  "encoding": {
    "x": {"field": "t", "type": "quantitative", "scale": {"domain": [0, 400], "nice": false},
      "axis": {"values": [0, 50, 100, 150, 200, 250, 300, 350, 400], "title": null, "grid": false, "domain": false, "labelFlush": false, "labelOverlap": false, "labelFontSize": 9, "labelFont": "Liberation Sans", "labelFontWeight": "bold", "labelColor": "#333", "tickSize": 3, "tickColor": "#555", "labelPadding": 3}},
    "y": {"field": "v", "type": "quantitative", "scale": {"domain": [0, 455], "nice": false},
      "axis": {"values": [0, 100, 200, 300, 400], "title": "SOL (%DA)", "titleFontSize": 24, "titleFont": "Liberation Sans", "titleFontWeight": "normal", "titleColor": "#333", "titleY": 122, "titleX": -22, "grid": false, "domain": false, "labelFontSize": 9, "labelFont": "Liberation Sans", "labelFontWeight": "bold", "labelColor": "#333", "tickSize": 3, "tickColor": "#555", "labelPadding": 2}},
    "color": {"field": "s", "type": "nominal",
      "scale": {"domain": ["A", "B", "D", "G", "P", "C"], "range": ["#a9dcd6", "#3d8fe0", "#5aa9ea", "#3f9d86", "#2f9be2", "#1c6ccc"]},
      "legend": {"orient": "none", "legendX": 258, "legendY": 315, "title": null, "values": ["C", "P"], "labelExpr": "datum.label == 'C' ? 'Control' : 'Perturb'", "symbolType": "stroke", "symbolStrokeWidth": 5, "symbolSize": 2500, "labelFontSize": 18, "labelFont": "Liberation Sans", "labelColor": "#222", "rowPadding": 18, "labelOffset": 10}}
  },
  "layer": [
    {"transform": [{"filter": "datum.s == 'A'"}], "mark": {"type": "line", "strokeWidth": 1.8}},
    {"transform": [{"filter": "datum.s == 'B'"}], "mark": {"type": "line", "interpolate": "monotone", "strokeWidth": 1.2}},
    {"transform": [{"filter": "datum.s == 'D'"}], "mark": {"type": "line", "interpolate": "monotone", "strokeWidth": 1.2}},
    {"transform": [{"filter": "datum.s == 'G'"}], "mark": {"type": "line", "interpolate": "monotone", "strokeWidth": 4}},
    {"transform": [{"filter": "datum.s == 'P'"}], "mark": {"type": "line", "interpolate": "monotone", "strokeWidth": 4.5}},
    {"transform": [{"filter": "datum.s == 'C'"}], "mark": {"type": "line", "interpolate": "monotone", "strokeWidth": 4.5}},
    {"transform": [{"filter": "datum.s == 'O'"}],
     "mark": {"type": "point", "filled": false, "shape": "M -0.51 0 C -0.51 -0.552 -0.2815 -1 0 -1 C 0.2815 -1 0.51 -0.552 0.51 0 C 0.51 0.552 0.2815 1 0 1 C -0.2815 1 -0.51 0.552 -0.51 0 Z", "size": 20449, "opacity": 1, "strokeWidth": 1.6},
     "encoding": {"x": {"field": "t", "type": "quantitative"}, "y": {"field": "v", "type": "quantitative"}, "color": {"value": "#222"}}}
  ]
},
"config": {"view": {"stroke": "#555", "strokeWidth": 1}, "font": "Liberation Sans", "legend": {"symbolStrokeWidth": 5}}
}
